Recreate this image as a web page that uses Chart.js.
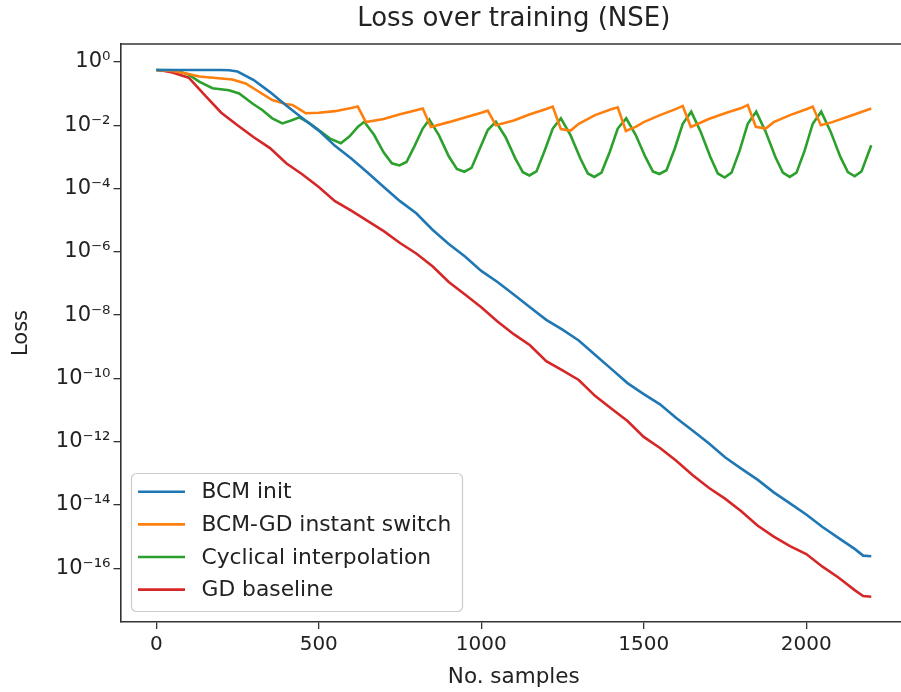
<!DOCTYPE html>
<html>
<head>
<meta charset="utf-8">
<script src="https://cdn.jsdelivr.net/npm/chart.js@4.4.1/dist/chart.umd.min.js"></script>
<style>
  html, body { margin: 0; padding: 0; background: #fff; overflow: hidden; }
</style>
</head>
<body>
<canvas id="lossChart" width="908" height="692"></canvas>
<script>
// samples (x) and loss (y) for each run
const bcmX = [0, 50, 100, 150, 200, 225, 250, 300, 350, 400, 450, 500, 550, 600, 650, 700, 750, 800, 850, 900,
  950, 1000, 1050, 1100, 1150, 1200, 1250, 1300, 1350, 1400, 1450, 1500, 1550, 1600, 1650, 1700, 1750, 1800,
  1850, 1900, 1950, 2000, 2050, 2100, 2150, 2175, 2200];
const bcmLoss = [0.56, 0.56, 0.56, 0.56, 0.56, 0.55, 0.50, 0.27, 0.112, 4.2e-2, 1.66e-2, 6.8e-3, 2.24e-3, 8.9e-4,
  3.2e-4, 1.12e-4, 4.0e-5, 1.66e-5, 5.0e-6, 1.78e-6, 7.1e-7, 2.5e-7, 1.12e-7, 4.5e-8, 1.78e-8, 7.1e-9, 3.5e-9,
  1.58e-9, 5.6e-10, 2.0e-10, 7.1e-11, 3.2e-11, 1.51e-11, 5.6e-12, 2.24e-12, 8.9e-13, 3.2e-13, 1.41e-13, 6.3e-14,
  2.5e-14, 1.12e-14, 5.0e-15, 2.0e-15, 8.9e-16, 4.0e-16, 2.5e-16, 2.4e-16];

const switchX = [0, 50, 100, 132, 175, 234, 275, 316, 357, 398, 419, 445, 460, 500, 550, 600, 620, 645, 700, 750,
  800, 820, 845, 900, 950, 1000, 1020, 1045, 1100, 1150, 1200, 1220, 1245, 1275, 1300, 1350, 1400, 1420, 1445,
  1475, 1500, 1550, 1600, 1620, 1645, 1700, 1750, 1800, 1820, 1845, 1875, 1900, 1950, 2000, 2020, 2045, 2080,
  2150, 2200];
const switchLoss = [0.56, 0.52, 0.42, 0.35, 0.32, 0.28, 0.21, 0.115, 6.3e-2, 4.7e-2, 4.4e-2, 3.0e-2, 2.4e-2, 2.5e-2,
  2.8e-2, 3.5e-2, 3.9e-2, 1.26e-2, 1.58e-2, 2.24e-2, 3.0e-2, 3.4e-2, 8.9e-3, 1.26e-2, 1.78e-2, 2.5e-2, 2.9e-2,
  1.0e-2, 1.41e-2, 2.24e-2, 3.3e-2, 3.9e-2, 7.6e-3, 6.8e-3, 1.12e-2, 2.1e-2, 3.2e-2, 3.7e-2, 6.6e-3, 8.9e-3,
  1.26e-2, 2.1e-2, 3.3e-2, 4.1e-2, 8.9e-3, 1.58e-2, 2.4e-2, 3.5e-2, 4.4e-2, 8.9e-3, 7.9e-3, 1.26e-2, 2.1e-2,
  3.2e-2, 3.9e-2, 1.0e-2, 1.26e-2, 2.24e-2, 3.4e-2];

const cyclicX = [0, 60, 100, 132, 173, 224, 255, 296, 327, 357, 388, 415, 440, 470, 500, 535, 568, 595, 620, 640,
  670, 700, 725, 748, 770, 795, 820, 840, 870, 900, 925, 948, 970, 995, 1020, 1045, 1075, 1105, 1128, 1148, 1170,
  1195, 1220, 1245, 1275, 1305, 1328, 1348, 1370, 1395, 1420, 1446, 1475, 1505, 1528, 1548, 1570, 1595, 1620,
  1646, 1675, 1705, 1728, 1749, 1770, 1795, 1820, 1846, 1875, 1905, 1928, 1949, 1970, 1995, 2020, 2046, 2075,
  2105, 2128, 2149, 2170, 2200];
const cyclicLoss = [0.56, 0.55, 0.40, 0.24, 0.148, 0.129, 0.102, 4.9e-2, 3.0e-2, 1.66e-2, 1.15e-2, 1.41e-2, 1.78e-2,
  1.2e-2, 7.1e-3, 3.8e-3, 2.7e-3, 4.5e-3, 8.9e-3, 1.29e-2,
  5.0e-3, 1.38e-3, 6.3e-4, 5.4e-4, 6.9e-4, 2.24e-3, 7.9e-3, 1.51e-2,
  4.8e-3, 1.05e-3, 4.2e-4, 3.4e-4, 4.5e-4, 1.78e-3, 7.1e-3, 1.29e-2,
  4.2e-3, 8.9e-4, 3.3e-4, 2.6e-4, 3.5e-4, 1.58e-3, 7.9e-3, 1.66e-2,
  4.8e-3, 8.9e-4, 3.0e-4, 2.34e-4, 3.2e-4, 1.41e-3, 7.9e-3, 1.66e-2,
  5.0e-3, 1.0e-3, 3.5e-4, 2.9e-4, 3.8e-4, 1.78e-3, 1.12e-2, 2.7e-2,
  6.3e-3, 1.0e-3, 3.0e-4, 2.24e-4, 3.2e-4, 1.58e-3, 1.12e-2, 2.7e-2,
  6.3e-3, 1.0e-3, 3.2e-4, 2.34e-4, 3.2e-4, 1.58e-3, 1.12e-2, 2.7e-2,
  6.3e-3, 1.0e-3, 3.3e-4, 2.45e-4, 3.5e-4, 2.34e-3];

const gdX = [0, 25, 50, 100, 150, 200, 250, 300, 350, 400, 450, 500, 550, 600, 650, 700, 750, 800, 850, 900, 950,
  1000, 1050, 1100, 1150, 1200, 1250, 1300, 1350, 1400, 1450, 1500, 1550, 1600, 1650, 1700, 1750, 1800, 1850,
  1900, 1950, 2000, 2050, 2100, 2150, 2175, 2200];
const gdLoss = [0.56, 0.52, 0.47, 0.32, 8.9e-2, 2.5e-2, 1.0e-2, 4.2e-3, 1.9e-3, 6.3e-4, 2.8e-4, 1.12e-4, 4.0e-5,
  2.0e-5, 9.5e-6, 4.5e-6, 1.9e-6, 8.9e-7, 3.5e-7, 1.12e-7, 4.5e-8, 1.78e-8, 6.3e-9, 2.5e-9, 1.12e-9, 3.5e-10,
  1.78e-10, 8.9e-11, 2.8e-11, 1.12e-11, 4.5e-12, 1.41e-12, 6.3e-13, 2.5e-13, 8.9e-14, 3.5e-14, 1.58e-14,
  6.3e-15, 2.24e-15, 1.0e-15, 5.0e-16, 2.8e-16, 1.12e-16, 5.0e-17, 2.0e-17, 1.32e-17, 1.26e-17];

const seriesNames = ['BCM init', 'BCM-GD instant switch', 'Cyclical interpolation', 'GD baseline'];
const seriesColors = ['#1f77b4', '#ff7f0e', '#2ca02c', '#d62728'];

const xTickValues = [0, 500, 1000, 1500, 2000];
const yTickValues = [1e0, 1e-2, 1e-4, 1e-6, 1e-8, 1e-10, 1e-12, 1e-14, 1e-16];
const yTickLabels = ['10⁰', '10⁻²', '10⁻⁴', '10⁻⁶', '10⁻⁸', '10⁻¹⁰', '10⁻¹²', '10⁻¹⁴', '10⁻¹⁶'];

const FONT = '"DejaVu Sans", sans-serif';
const INK = '#222';

function zip(xs, ys) {
  return xs.map((x, i) => ({ x: x, y: ys[i] }));
}

// matplotlib style legend box in lower left of the axes
const legendBox = {
  id: 'legendBox',
  afterDatasetsDraw(chart) {
    const { ctx, chartArea } = chart;
    const w = 331, h = 138;
    const x = chartArea.left + 11;
    const y = chartArea.bottom - 10.5 - h;
    ctx.save();
    ctx.fillStyle = 'rgba(255,255,255,0.85)';
    ctx.strokeStyle = 'rgba(200,200,200,0.9)';
    ctx.lineWidth = 1.2;
    ctx.beginPath();
    ctx.roundRect(x, y, w, h, 5);
    ctx.fill();
    ctx.stroke();
    ctx.font = '21.8px ' + FONT;
    ctx.textBaseline = 'middle';
    chart.data.datasets.forEach((ds, i) => {
      const ry = y + 18.3 + i * 32.6;
      ctx.strokeStyle = ds.borderColor;
      ctx.lineWidth = ds.borderWidth;
      ctx.beginPath();
      ctx.moveTo(x + 6.5, ry);
      ctx.lineTo(x + 53.5, ry);
      ctx.stroke();
      ctx.fillStyle = INK;
      ctx.fillText(ds.label, x + 70, ry + 1);
    });
    ctx.restore();
  }
};

// top spine (right one falls just outside the window)
const topSpine = {
  id: 'topSpine',
  afterDraw(chart) {
    const { ctx, chartArea } = chart;
    ctx.save();
    ctx.strokeStyle = '#333';
    ctx.lineWidth = 1.6;
    ctx.beginPath();
    ctx.moveTo(chartArea.left, chartArea.top);
    ctx.lineTo(chartArea.right, chartArea.top);
    ctx.stroke();
    ctx.restore();
  }
};

const datasets = [
  [bcmX, bcmLoss],
  [switchX, switchLoss],
  [cyclicX, cyclicLoss],
  [gdX, gdLoss]
].map((s, i) => ({
  label: seriesNames[i],
  data: zip(s[0], s[1]),
  borderColor: seriesColors[i],
  backgroundColor: seriesColors[i],
  borderWidth: 2.6,
  pointRadius: 0,
  tension: 0,
  fill: false
}));

new Chart(document.getElementById('lossChart').getContext('2d'), {
  type: 'line',
  data: { datasets: datasets },
  plugins: [legendBox, topSpine],
  options: {
    responsive: false,
    animation: false,
    layout: { padding: { left: 0, right: 1, top: 0, bottom: 0 } },
    plugins: {
      legend: { display: false },
      tooltip: { enabled: false },
      title: {
        display: true,
        text: 'Loss over training (NSE)',
        fullSize: false,
        color: INK,
        font: { family: FONT, size: 26, weight: 'normal' },
        padding: { top: 4, bottom: 8.8 }
      }
    },
    scales: {
      x: {
        type: 'linear',
        min: -110,
        max: 2310,
        bounds: 'data',
        afterBuildTicks: scale => { scale.ticks = xTickValues.map(v => ({ value: v })); },
        afterFit: scale => { scale.height = 70; },
        grid: { drawOnChartArea: false, drawTicks: true, tickLength: 7, color: '#333', lineWidth: 1.3 },
        border: { display: true, color: '#333', width: 1.6 },
        ticks: {
          color: INK,
          padding: 4,
          maxRotation: 0,
          autoSkip: false,
          font: { family: FONT, size: 20 },
          callback: v => String(v)
        },
        title: {
          display: true,
          text: 'No. samples',
          color: INK,
          font: { family: FONT, size: 21.5 },
          padding: { top: 4, bottom: 1.5 }
        }
      },
      y: {
        type: 'logarithmic',
        min: 1.995e-18,
        max: 3.715,
        bounds: 'data',
        afterBuildTicks: scale => { scale.ticks = yTickValues.map(v => ({ value: v })); },
        afterFit: scale => { scale.width = 120.5; },
        grid: { drawOnChartArea: false, drawTicks: true, tickLength: 7, color: '#333', lineWidth: 1.3 },
        border: { display: true, color: '#333', width: 1.6 },
        ticks: {
          color: INK,
          padding: 3,
          autoSkip: false,
          font: { family: FONT, size: 21 },
          callback: (v, i) => yTickLabels[i]
        },
        title: {
          display: true,
          text: 'Loss',
          color: INK,
          font: { family: FONT, size: 21 },
          padding: { top: 9, bottom: 0 }
        }
      }
    }
  }
});
</script>
</body>
</html>
